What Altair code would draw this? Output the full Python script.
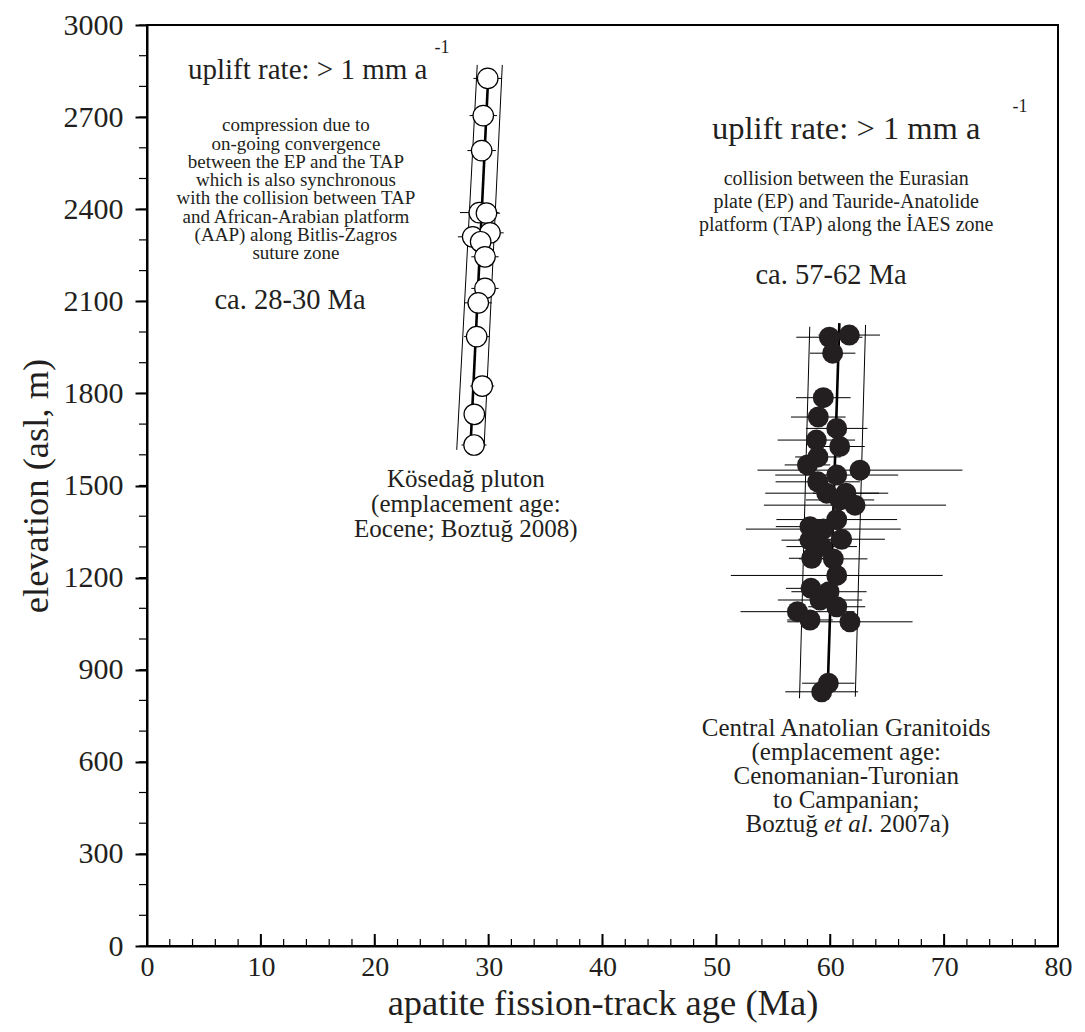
import altair as alt
import pandas as pd

FONT = "Liberation Serif"
INK = "#231f20"
W, H = 911, 921

# ---- data: Kösedağ pluton (open circles) ----
kos_age = [29.92, 29.53, 29.39, 29.18, 29.81, 28.60, 30.12, 29.30, 29.68, 29.68, 29.09, 28.95, 29.44, 28.74, 28.72]
kos_elev = [2826, 2705, 2591, 2389, 2387, 2310, 2323, 2294, 2245, 2142, 2095, 1985, 1824, 1732, 1632]
kos_err = [1.25, 1.2, 1.25, 1.7, 1.2, 1.3, 1.2, 1.3, 1.2, 1.2, 1.2, 1.1, 1.05, 0.9, 1.1]

# ---- data: Central Anatolian Granitoids (filled circles) ----
cag_age = [59.92, 61.67, 60.21, 59.39, 58.95, 60.57, 58.78, 60.83, 58.92, 58.00, 62.61, 60.57,
           58.90, 59.69, 61.38, 60.86, 62.17, 60.57, 58.22, 59.39, 61.00, 58.22, 59.25, 58.37,
           60.27, 60.57, 58.31, 59.89, 59.10, 60.57, 57.12, 58.22, 61.73, 59.83, 59.25]
cag_elev = [1983, 1990, 1931, 1786, 1723, 1686, 1648, 1627, 1593, 1567, 1550, 1534,
            1512, 1475, 1475, 1453, 1436, 1389, 1366, 1358, 1325, 1322, 1301, 1263,
            1261, 1207, 1165, 1154, 1127, 1105, 1089, 1062, 1056, 856, 828]
cag_err = [2.9, 2.7, 2.0, 2.4, 2.4, 2.7, 3.4, 2.2, 2.0, 2.0, 9.0, 5.4,
           3.7, 5.4, 2.9, 3.0, 8.0, 5.3, 3.0, 6.8, 3.8, 2.5, 3.1, 2.0,
           3.0, 9.3, 2.2, 3.3, 3.7, 2.5, 5.0, 2.0, 5.5, 2.3, 3.2]

# ---- regression lines (centre) and envelopes ----
center_id = ["kos", "kos", "cag", "cag"]
center_age = [30.0, 28.4, 60.8, 59.8]
center_elev = [2860, 1622, 2029, 866]

env_id = ["kosL", "kosL", "kosR", "kosR", "cagL", "cagL", "cagR", "cagR"]
env_age = [29.0, 27.2, 31.2, 29.6, 58.2, 57.3, 63.1, 62.2]
env_elev = [2870, 1616, 2870, 1625, 2017, 807, 2023, 812]

# ---- axis ticks ----
x_major = list(range(0, 81, 10))
x_minor = list(range(0, 81, 2))
y_major = list(range(0, 3001, 300))
y_minor = list(range(0, 3001, 100))

# ---- annotations ----
para_left = ["compression due to", "on-going convergence", "between the EP and the TAP",
             "which is also synchronous", "with the collision between TAP",
             "and African-Arabian platform", "(AAP) along Bitlis-Zagros", "suture zone"]
para_left_age = [13.08] * 8
para_left_elev = [2674, 2614, 2555, 2495, 2435, 2376, 2316, 2256]

para_right = ["collision between the Eurasian", "plate (EP) and Tauride-Anatolide",
              "platform (TAP) along the İAES zone"]
para_right_age = [61.4] * 3
para_right_elev = [2498, 2423, 2349]

uplift_l_text = ["uplift rate: > 1 mm a"]
uplift_l_age = [3.6]
uplift_l_elev = [2824]
uplift_r_text = ["uplift rate: > 1 mm a"]
uplift_r_age = [49.62]
uplift_r_elev = [2629]

sup_text = ["-1", "-1"]
sup_age = [25.9, 76.66]
sup_elev = [2925, 2733]

ca_text = ["ca. 28-30 Ma", "ca. 57-62 Ma"]
ca_age = [12.56, 60.07]
ca_elev = [2104, 2186]

cap_text = ["Kösedağ pluton", "(emplacement age:", "Eocene; Boztuğ 2008)",
            "Central Anatolian Granitoids", "(emplacement age:", "Cenomanian-Turonian",
            "to Campanian;"]
cap_age = [28.0, 28.0, 28.0, 61.4, 61.4, 61.4, 61.4]
cap_elev = [1521, 1440, 1358, 710, 632, 554, 476]

ref_a_text = ["Boztuğ"]
ref_a_age = [58.9]
ref_b_text = ["et al."]
ref_b_age = [59.45]
ref_c_text = ["2007a)"]
ref_c_age = [64.35]
ref_elev = [397]

# ---------------------------------------------------------------
xs = alt.Scale(domain=[0, 80], nice=False, zero=False)
ys = alt.Scale(domain=[0, 3000], nice=False, zero=False)

x_axis = alt.Axis(values=x_major, ticks=False, grid=False, labelFont=FONT, labelFontSize=28,
                  labelPadding=7, labelColor=INK, labelFlush=False, labelOverlap=False,
                  title="apatite fission-track age (Ma)", titleFont=FONT, titleFontSize=36.5,
                  titleFontWeight="normal", titleColor=INK, titlePadding=4,
                  domainColor="black", domainWidth=2)
y_axis = alt.Axis(values=y_major, format="d", grid=False, tickSize=12, tickWidth=2, tickColor="black",
                  labelFont=FONT, labelFontSize=30, labelPadding=12, labelColor=INK,
                  labelFlush=False, labelOverlap=False,
                  title="elevation (asl, m)", titleFont=FONT, titleFontSize=36.5,
                  titleFontWeight="normal", titleColor=INK, titlePadding=8,
                  domainColor="black", domainWidth=2)


def X(field):
    return alt.X(field, scale=xs, axis=x_axis)


def Y(field):
    return alt.Y(field, scale=ys, axis=y_axis)


kos = pd.DataFrame({"age": kos_age, "elev": kos_elev, "err": kos_err})
cag = pd.DataFrame({"age": cag_age, "elev": cag_elev, "err": cag_err})

env = alt.Chart(pd.DataFrame({"id": env_id, "age": env_age, "elev": env_elev})).mark_line(
    color="black", strokeWidth=1).encode(x=X("age:Q"), y=Y("elev:Q"), detail="id:N")

center = alt.Chart(pd.DataFrame({"id": center_id, "age": center_age, "elev": center_elev})).mark_line(
    color="black", strokeWidth=2.6).encode(x=X("age:Q"), y=Y("elev:Q"), detail="id:N")


def errbars(df):
    return alt.Chart(df).transform_calculate(
        lo="datum.age - datum.err", hi="datum.age + datum.err").mark_rule(
        color="black", strokeWidth=1).encode(x=X("lo:Q"), x2="hi:Q", y=Y("elev:Q"))


kos_pts = alt.Chart(kos).mark_circle(size=420, fill="white", stroke="black", strokeWidth=1.2,
                                     opacity=1, fillOpacity=1).encode(x=X("age:Q"), y=Y("elev:Q"))
cag_pts = alt.Chart(cag).mark_circle(size=440, color=INK, opacity=1).encode(x=X("age:Q"), y=Y("elev:Q"))

xt_major = alt.Chart(pd.DataFrame({"v": x_major})).mark_rule(color="black", strokeWidth=2).encode(
    x=X("v:Q"), y=alt.value(H), y2=alt.value(H - 12))
xt_minor = alt.Chart(pd.DataFrame({"v": x_minor})).mark_rule(color="black", strokeWidth=1.2).encode(
    x=X("v:Q"), y=alt.value(H), y2=alt.value(H - 7))
yt_minor = alt.Chart(pd.DataFrame({"v": y_minor})).mark_rule(color="black", strokeWidth=1.2).encode(
    y=Y("v:Q"), x=alt.value(-8), x2=alt.value(0))


def text_layer(texts, ages, elevs, size, align="center", baseline="middle", style="normal"):
    df = pd.DataFrame({"t": texts, "age": ages, "elev": elevs})
    return alt.Chart(df).mark_text(font=FONT, fontSize=size, fontStyle=style, align=align,
                                   baseline=baseline, color=INK).encode(
        x=X("age:Q"), y=Y("elev:Q"), text="t:N")


texts = [
    text_layer(para_left, para_left_age, para_left_elev, 19),
    text_layer(para_right, para_right_age, para_right_elev, 20),
    text_layer(uplift_l_text, uplift_l_age, uplift_l_elev, 29, align="left", baseline="alphabetic"),
    text_layer(uplift_r_text, uplift_r_age, uplift_r_elev, 32.5, align="left", baseline="alphabetic"),
    text_layer(sup_text, sup_age, sup_elev, 18),
    text_layer(ca_text, ca_age, ca_elev, 28.5),
    text_layer(cap_text, cap_age, cap_elev, 25),
    text_layer(ref_a_text, ref_a_age, ref_elev, 25, align="right"),
    text_layer(ref_b_text, ref_b_age, ref_elev, 25, align="left", style="italic"),
    text_layer(ref_c_text, ref_c_age, ref_elev, 25, align="left"),
]

chart = alt.layer(
    env, center, errbars(kos), errbars(cag), kos_pts, cag_pts,
    xt_minor, xt_major, yt_minor, *texts
).properties(
    width=W, height=H,
    autosize=alt.AutoSizeParams(type="none"),
    padding={"left": 139, "top": 17, "right": 19, "bottom": 78},
    background="white",
).configure_view(stroke="black", strokeWidth=2)

chart.save("out.html", embed_options={"renderer": "svg", "actions": False})
